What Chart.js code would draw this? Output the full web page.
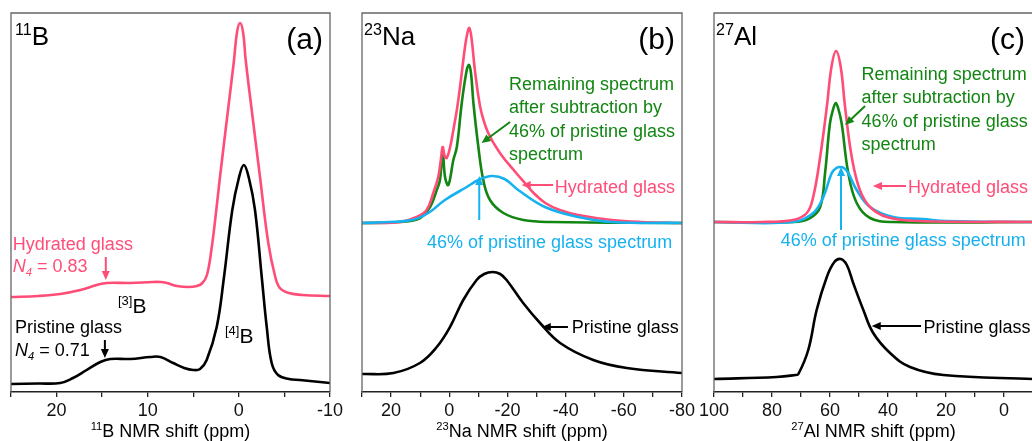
<!DOCTYPE html>
<html>
<head>
<meta charset="utf-8">
<script src="https://cdn.jsdelivr.net/npm/chart.js@4.4.1/dist/chart.umd.min.js"></script>
<style>
  html, body { margin: 0; padding: 0; background: #fff; overflow: hidden; }
  #wrap { position: relative; width: 1032px; height: 441px; overflow: hidden; }
  #wrap canvas { position: absolute; top: 0; }
</style>
</head>
<body>
<div id="wrap">
  <canvas id="panelA" width="350" height="441" style="left:0px"></canvas>
  <canvas id="panelB" width="360" height="441" style="left:340px"></canvas>
  <canvas id="panelC" width="360" height="441" style="left:692px"></canvas>
</div>
<script>
// ===== Spectra: [shift (ppm), intensity (arb. units, stacked offsets included)] =====
const boronHydrated = [
  [25, 95], [22, 96], [19.6, 98], [17.4, 102], [15.6, 107], [14.5, 109], [11.9, 109], [9.5, 110],
  [8.6, 110], [7.9, 109], [6.8, 106], [5.5, 105], [4.6, 106], [4.0, 109], [3.5, 117], [3.0, 143],
  [2.5, 180], [2.07, 215], [1.19, 282], [0.53, 332], [0.2, 360], [-0.13, 369], [-0.46, 360],
  [-0.75, 332], [-1.41, 282], [-2.32, 215], [-3.23, 149], [-3.97, 116], [-4.5, 104], [-5.5, 99],
  [-7, 97], [-10, 96]
];
const boronPristine = [
  [25, 8], [22, 8.5], [19.6, 9], [18.2, 14], [16.7, 22], [15.2, 30], [14.1, 33], [11.9, 33],
  [9.7, 35], [8.6, 35], [7.2, 29], [6.0, 24], [5.0, 22], [4.26, 23], [3.53, 32], [2.43, 65],
  [1.63, 115], [0.72, 182], [0.0, 214], [-0.55, 227], [-1.1, 214], [-1.77, 182], [-2.51, 115],
  [-3.06, 65], [-3.6, 29], [-4.3, 17], [-5.5, 13], [-6.7, 12], [-10, 9]
];

const sodiumHydrated = [
  [30, 169], [24.5, 169], [16.9, 170], [11.2, 175], [7.8, 182], [5.5, 199], [3.8, 215], [2.9, 232],
  [2.26, 245], [1.6, 236], [0.9, 234], [-0.3, 245], [-1.4, 262], [-2.6, 282], [-3.7, 305],
  [-5.4, 345], [-6.3, 360], [-6.9, 364], [-7.6, 355], [-8.8, 322], [-10, 296], [-11.1, 279],
  [-13.4, 259], [-17.4, 239], [-23, 219], [-26, 209], [-29, 199], [-33, 189], [-38, 182],
  [-44.3, 177], [-55.8, 172], [-66, 170], [-80, 169]
];
const sodiumRemaining = [
  [30, 169], [17, 170], [10, 174], [6.6, 185], [4.3, 202], [3.2, 212], [2.26, 239], [1.4, 214],
  [0.3, 207], [-1.4, 232], [-2.6, 245], [-4.3, 289], [-6.0, 322], [-6.8, 327], [-7.5, 318],
  [-8.3, 289], [-10, 245], [-11.7, 212], [-14, 192], [-18.6, 179], [-25.5, 172], [-35, 170], [-80, 169]
];
const sodiumScaled = [
  [30, 169], [24.5, 169.5], [12.9, 172], [7.2, 179], [1.5, 192], [-6, 205], [-10, 212],
  [-14.6, 216], [-19, 213], [-23.7, 202], [-32.9, 185], [-44.3, 175], [-55.8, 170], [-80, 169]
];
const sodiumPristine = [
  [30, 18], [19.2, 19], [10.1, 29], [4.3, 45], [-0.25, 65], [-4.8, 92], [-9.4, 112], [-12, 118],
  [-14.9, 120], [-17.5, 118], [-19.7, 112], [-25.4, 89], [-31.2, 69], [-38.1, 49], [-49.5, 32],
  [-61, 24], [-80, 19]
];

const aluminumHydrated = [
  [100, 170], [84, 170], [72.7, 172], [68, 179], [65.8, 195], [63.4, 235], [61.1, 285], [59.5, 325],
  [57.9, 341], [56.3, 325], [54.8, 285], [52.5, 235], [49.7, 202], [46.2, 185], [40.4, 175],
  [30, 171], [-10, 170]
];
const aluminumRemaining = [
  [100, 170], [72.7, 170], [66.9, 174], [63.4, 185], [61.7, 219], [60, 269], [58.8, 284], [58, 289],
  [57.2, 284], [56, 269], [53.7, 219], [50.8, 189], [46.2, 174], [38.3, 170], [-10, 170]
];
const aluminumScaled = [
  [100, 170], [72.7, 170], [65.8, 179], [62.3, 195], [59.4, 219], [57.8, 224], [56.5, 225],
  [55.2, 224], [53.7, 219], [50.8, 202], [46.2, 185], [38.2, 175], [28, 173], [20, 171], [-10, 170]
];
const aluminumPristine = [
  [100, 13], [78.4, 15], [72, 17], [70.9, 18], [67.5, 42], [64.6, 82], [61.1, 115], [58.5, 130],
  [56.3, 133], [54.2, 127], [52, 109], [48.5, 82], [45.1, 59], [39.3, 39], [32.4, 25], [20.9, 17],
  [-10, 13]
];

// axis ranges (ppm), tick spacing and labelled tick spacing
const boronAxis = { min: -10, max: 25, step: 5, labelEvery: 10 };
const sodiumAxis = { min: -80, max: 30, step: 10, labelEvery: 20 };
const aluminumAxis = { min: -10, max: 100, step: 10, labelEvery: 20 };

const PINK = "#ff4d78";
const GREEN = "#128512";
const BLUE = "#16b2f0";
const BLACK = "#000000";
const FONT = '"Liberation Sans", Arial, Helvetica, sans-serif';

// ===== Text helpers =====
function setFont(ctx, size, italic) {
  ctx.font = (italic ? "italic " : "") + size + "px " + FONT;
}

// parts: [text, kind] with kind one of "n", "sup", "sub", "it", "itsub"
function drawRich(ctx, x, y, parts, size, color, align) {
  const pieces = parts.map(([t, k]) => {
    const small = k === "sup" || k === "sub" || k === "itsub";
    const s = small ? size * 0.62 : size;
    const it = k === "it" || k === "itsub";
    setFont(ctx, s, it);
    return { t, k, s, it, w: ctx.measureText(t).width };
  });
  const total = pieces.reduce((a, p) => a + p.w, 0);
  let cx = align === "right" ? x - total : align === "center" ? x - total / 2 : x;
  ctx.fillStyle = color;
  ctx.textAlign = "left";
  ctx.textBaseline = "alphabetic";
  pieces.forEach(p => {
    setFont(ctx, p.s, p.it);
    let dy = 0;
    if (p.k === "sup") dy = -size * 0.38;
    if (p.k === "sub" || p.k === "itsub") dy = size * 0.22;
    ctx.fillText(p.t, cx, y + dy);
    cx += p.w;
  });
}

function drawArrow(ctx, x1, y1, x2, y2, color) {
  const ang = Math.atan2(y2 - y1, x2 - x1);
  const head = 9, half = 4;
  ctx.strokeStyle = color;
  ctx.fillStyle = color;
  ctx.lineWidth = 2;
  ctx.beginPath();
  ctx.moveTo(x1, y1);
  ctx.lineTo(x2 - Math.cos(ang) * head * 0.8, y2 - Math.sin(ang) * head * 0.8);
  ctx.stroke();
  ctx.beginPath();
  ctx.moveTo(x2, y2);
  ctx.lineTo(x2 - Math.cos(ang) * head - Math.sin(ang) * half, y2 - Math.sin(ang) * head + Math.cos(ang) * half);
  ctx.lineTo(x2 - Math.cos(ang) * head + Math.sin(ang) * half, y2 - Math.sin(ang) * head - Math.cos(ang) * half);
  ctx.closePath();
  ctx.fill();
}

// frame, panel labels, annotations and axis title (annotation positions in data units)
function makeNotes(panel) {
  return {
    id: "notes_" + panel.id,
    afterDraw(chart) {
      const ctx = chart.ctx;
      const a = chart.chartArea;
      const xs = chart.scales.x, ys = chart.scales.y;
      const X = v => xs.getPixelForValue(v);
      const Y = v => ys.getPixelForValue(v);
      ctx.save();
      // box around the plot area
      ctx.strokeStyle = "#666";
      ctx.lineWidth = 1.3;
      ctx.beginPath();
      ctx.moveTo(a.left, a.bottom);
      ctx.lineTo(a.left, a.top);
      ctx.lineTo(a.right, a.top);
      ctx.lineTo(a.right, a.bottom);
      ctx.stroke();

      panel.notes.forEach(n => {
        if (n.arrow) {
          drawArrow(ctx, X(n.arrow[0]), Y(n.arrow[1]), X(n.arrow[2]), Y(n.arrow[3]), n.color);
        } else {
          drawRich(ctx, X(n.x), Y(n.y), n.parts, n.size || 18, n.color, n.align || "left");
        }
      });
      drawRich(ctx, (a.left + a.right) / 2, a.bottom + 45, panel.title, 18, "#000", "center");
      ctx.restore();
    }
  };
}

function series(points, color) {
  return {
    data: points.map(p => ({ x: p[0], y: p[1] })),
    borderColor: color,
    borderWidth: 2.6,
    pointRadius: 0,
    fill: false,
    tension: 0.4,
    borderJoinStyle: "round"
  };
}

function buildPanel(panel) {
  const ax = panel.axis;
  return new Chart(document.getElementById(panel.id).getContext("2d"), {
    type: "line",
    data: { datasets: panel.datasets },
    plugins: [makeNotes(panel)],
    options: {
      responsive: false,
      animation: false,
      devicePixelRatio: 1,
      layout: { padding: { left: panel.padLeft, right: panel.padRight, top: 13, bottom: 19 } },
      plugins: { legend: { display: false }, tooltip: { enabled: false } },
      scales: {
        x: {
          type: "linear",
          reverse: true,
          min: ax.min,
          max: ax.max,
          afterFit: s => { s.height = 30; s.paddingLeft = 0; s.paddingRight = 0; },
          border: { display: true, color: "#222", width: 1.5 },
          grid: { drawOnChartArea: false, drawTicks: true, tickLength: 5, color: "#222", lineWidth: 1.3 },
          ticks: {
            stepSize: ax.step,
            autoSkip: false,
            maxRotation: 0,
            padding: 3,
            color: "#111",
            font: { family: FONT, size: 18 },
            callback: v => (Math.abs(v % ax.labelEvery) < 1e-6 ? String(v) : "")
          }
        },
        y: { display: false, min: 0, max: 379 }
      }
    }
  });
}

const panels = [
  {
    id: "panelA", axis: boronAxis, padLeft: 11, padRight: 20,
    title: [["11", "sup"], ["B NMR shift (ppm)", "n"]],
    datasets: [series(boronHydrated, PINK), series(boronPristine, BLACK)],
    notes: [
      { x: 24.56, y: 347, parts: [["11", "sup"], ["B", "n"]], size: 26, color: BLACK },
      { x: -9.23, y: 343, parts: [["(a)", "n"]], size: 30, color: BLACK, align: "right" },
      { x: 24.8, y: 142, parts: [["Hydrated glass", "n"]], color: PINK },
      { x: 24.8, y: 120, parts: [["N", "it"], ["4", "itsub"], [" = 0.83", "n"]], color: PINK },
      { arrow: [14.6, 135, 14.6, 112], color: PINK },
      { x: 13.26, y: 79, parts: [["[3]", "sup"], ["B", "n"]], size: 21, color: BLACK },
      { x: 24.56, y: 59, parts: [["Pristine glass", "n"]], color: BLACK },
      { x: 24.56, y: 36, parts: [["N", "it"], ["4", "itsub"], [" = 0.71", "n"]], color: BLACK },
      { arrow: [14.7, 52, 14.7, 34], color: BLACK },
      { x: 1.52, y: 49, parts: [["[4]", "sup"], ["B", "n"]], size: 21, color: BLACK }
    ]
  },
  {
    id: "panelB", axis: sodiumAxis, padLeft: 22, padRight: 18,
    title: [["23", "sup"], ["Na NMR shift (ppm)", "n"]],
    datasets: [
      series(sodiumPristine, BLACK), series(sodiumScaled, BLUE),
      series(sodiumHydrated, PINK), series(sodiumRemaining, GREEN)
    ],
    notes: [
      { x: 29.3, y: 347, parts: [["23", "sup"], ["Na", "n"]], size: 26, color: BLACK },
      { x: -77.6, y: 343, parts: [["(b)", "n"]], size: 30, color: BLACK, align: "right" },
      { x: -20.5, y: 302, parts: [["Remaining spectrum", "n"]], color: GREEN },
      { x: -20.5, y: 278.7, parts: [["after subtraction by", "n"]], color: GREEN },
      { x: -20.5, y: 255.3, parts: [["46% of pristine glass", "n"]], color: GREEN },
      { x: -20.5, y: 232, parts: [["spectrum", "n"]], color: GREEN },
      { arrow: [-20.9, 270, -11.1, 249], color: GREEN },
      { x: -36.3, y: 199, parts: [["Hydrated glass", "n"]], color: PINK },
      { arrow: [-35.7, 207, -24.9, 207], color: PINK },
      { x: 7.65, y: 144, parts: [["46% of pristine glass spectrum", "n"]], color: BLUE },
      { arrow: [-10.3, 172, -10.3, 216], color: BLUE },
      { x: -42.1, y: 59, parts: [["Pristine glass", "n"]], color: BLACK },
      { arrow: [-40.8, 65, -31.8, 65], color: BLACK }
    ]
  },
  {
    id: "panelC", axis: aluminumAxis, padLeft: 22, padRight: 19,
    title: [["27", "sup"], ["Al NMR shift (ppm)", "n"]],
    datasets: [
      series(aluminumPristine, BLACK), series(aluminumHydrated, PINK),
      series(aluminumScaled, BLUE), series(aluminumRemaining, GREEN)
    ],
    notes: [
      { x: 99.3, y: 347, parts: [["27", "sup"], ["Al", "n"]], size: 26, color: BLACK },
      { x: 4.8, y: 343, parts: [["(c)", "n"]], size: 30, color: BLACK },
      { x: 49.1, y: 312, parts: [["Remaining spectrum", "n"]], color: GREEN },
      { x: 49.1, y: 289, parts: [["after subtraction by", "n"]], color: GREEN },
      { x: 49.1, y: 265.5, parts: [["46% of pristine glass", "n"]], color: GREEN },
      { x: 49.1, y: 242, parts: [["spectrum", "n"]], color: GREEN },
      { arrow: [47.9, 286, 54.8, 267], color: GREEN },
      { x: 33.1, y: 199, parts: [["Hydrated glass", "n"]], color: PINK },
      { arrow: [33.8, 206, 45.2, 206], color: PINK },
      { x: 77.0, y: 146, parts: [["46% of pristine glass spectrum", "n"]], color: BLUE },
      { arrow: [56.2, 162, 56.2, 225], color: BLUE },
      { x: 27.8, y: 59, parts: [["Pristine glass", "n"]], color: BLACK },
      { arrow: [28.6, 66, 45.6, 66], color: BLACK }
    ]
  }
];

panels.forEach(buildPanel);
</script>
</body>
</html>
